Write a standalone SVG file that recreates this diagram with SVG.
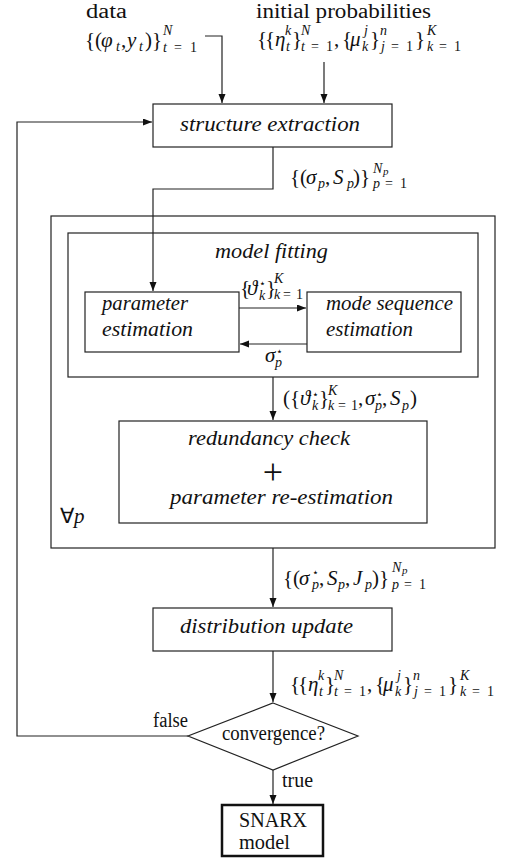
<svg xmlns="http://www.w3.org/2000/svg" width="507" height="859" viewBox="0 0 507 859">
<style>
text{font-family:"Liberation Serif","Times New Roman",serif;fill:#111;font-size:20px}
.f{font-size:21px}
.it{font-style:italic}
.s{font-size:14px}
.st{font-size:11px}
.plus{font-size:36px}
.box{fill:none;stroke:#222;stroke-width:1.2}
.c{fill:none;stroke:#222;stroke-width:1.2}
</style>
<defs>
<marker id="ah" markerUnits="userSpaceOnUse" markerWidth="10" markerHeight="8" refX="9" refY="3.5" orient="auto">
<path d="M0,0 L9,3.5 L0,7 z" fill="#111"/>
</marker>
<g id="probs">
<text class="f"><tspan x="257" y="46">{</tspan><tspan x="265" y="46">{</tspan><tspan class="it" x="275" y="46">η</tspan><tspan class="s it" x="285" y="35">k</tspan><tspan class="s it" x="286" y="51">t</tspan><tspan x="292" y="46">}</tspan><tspan class="s it" x="301" y="35">N</tspan><tspan class="s it" x="301" y="51">t</tspan><tspan class="s" x="311" y="51">=</tspan><tspan class="s" x="326" y="51">1</tspan><tspan x="334" y="46">,</tspan><tspan x="342" y="46">{</tspan><tspan class="it" x="350" y="46">μ</tspan><tspan class="s it" x="364" y="35">j</tspan><tspan class="s it" x="362" y="51">k</tspan><tspan x="370" y="46">}</tspan><tspan class="s it" x="380" y="35">n</tspan><tspan class="s it" x="381" y="51">j</tspan><tspan class="s" x="391" y="51">=</tspan><tspan class="s" x="406" y="51">1</tspan><tspan x="415" y="46">}</tspan><tspan class="s it" x="427" y="35">K</tspan><tspan class="s it" x="427" y="51">k</tspan><tspan class="s" x="439" y="51">=</tspan><tspan class="s" x="454" y="51">1</tspan></text>
</g>
</defs>

<g id="connectors">
<polyline class="c" points="205,36 222,36 222,103" marker-end="url(#ah)"/>
<line class="c" x1="324" y1="62" x2="324" y2="103" marker-end="url(#ah)"/>
<polyline class="c" points="273,147 273,189 153,189 153,291" marker-end="url(#ah)"/>
<polyline class="c" points="188,736 17,736 17,122 152,122" marker-end="url(#ah)"/>
<line class="c" x1="239" y1="308" x2="306" y2="308" marker-end="url(#ah)"/>
<line class="c" x1="307" y1="344" x2="240" y2="344" marker-end="url(#ah)"/>
<line class="c" x1="273" y1="377" x2="273" y2="420" marker-end="url(#ah)"/>
<line class="c" x1="273" y1="548" x2="273" y2="607" marker-end="url(#ah)"/>
<line class="c" x1="273" y1="651" x2="273" y2="702" marker-end="url(#ah)"/>
<line class="c" x1="273" y1="770" x2="273" y2="804" marker-end="url(#ah)"/>
</g>

<g id="input-data">
<text x="86" y="18" textLength="41" lengthAdjust="spacingAndGlyphs">data</text>
<text class="f"><tspan x="85" y="47">{(</tspan><tspan class="it" x="101" y="47">φ</tspan><tspan class="s it" x="116" y="51">t</tspan><tspan x="121" y="47">,</tspan><tspan class="it" x="127" y="47">y</tspan><tspan class="s it" x="139" y="51">t</tspan><tspan x="145" y="47">)}</tspan><tspan class="s it" x="163" y="35">N</tspan><tspan class="s it" x="163" y="52">t</tspan><tspan class="s" x="174" y="52">=</tspan><tspan class="s" x="190" y="52">1</tspan></text>
</g>

<g id="input-probs">
<text x="256" y="18" textLength="175" lengthAdjust="spacingAndGlyphs">initial probabilities</text>
<use href="#probs"/>
</g>

<g id="structure-extraction">
<rect class="box" x="153" y="104" width="239" height="43"/>
<text class="it" x="180" y="131" textLength="180" lengthAdjust="spacingAndGlyphs">structure extraction</text>
</g>

<g id="label-sigma-S">
<text class="f"><tspan x="290" y="184">{(</tspan><tspan class="it" x="306" y="184">σ</tspan><tspan class="s it" x="318" y="188">p</tspan><tspan x="325" y="184">,</tspan><tspan class="it" x="333" y="184">S</tspan><tspan class="s it" x="347" y="188">p</tspan><tspan x="353" y="184">)}</tspan><tspan class="s it" x="373" y="173">N</tspan><tspan class="st it" x="383" y="175">p</tspan><tspan class="s it" x="373" y="188">p</tspan><tspan class="s" x="385" y="188">=</tspan><tspan class="s" x="400" y="188">1</tspan></text>
</g>

<g id="loop-all-p">
<rect class="box" x="51" y="216" width="444" height="332"/>
<text class="f" x="60" y="523"><tspan>∀</tspan><tspan class="it">p</tspan></text>
</g>

<g id="model-fitting">
<rect class="box" x="68" y="233" width="410" height="144"/>
<text class="it" x="215" y="258" textLength="113" lengthAdjust="spacingAndGlyphs">model fitting</text>
</g>

<g id="parameter-estimation">
<rect class="box" x="85" y="292" width="154" height="60"/>
<text class="it" x="102" y="310" textLength="86" lengthAdjust="spacingAndGlyphs">parameter</text>
<text class="it" x="102" y="336" textLength="91" lengthAdjust="spacingAndGlyphs">estimation</text>
</g>

<g id="mode-sequence-estimation">
<rect class="box" x="307" y="292" width="154" height="60"/>
<text class="it" x="326" y="310" textLength="127" lengthAdjust="spacingAndGlyphs">mode sequence</text>
<text class="it" x="326" y="336" textLength="87" lengthAdjust="spacingAndGlyphs">estimation</text>
</g>

<g id="label-theta">
<text class="f"><tspan x="240" y="295">{</tspan><tspan class="it" x="247" y="295">ϑ</tspan><tspan class="st" x="259" y="287">⋆</tspan><tspan class="s it" x="259" y="300">k</tspan><tspan x="266" y="295">}</tspan><tspan class="s it" x="274" y="283">K</tspan><tspan class="s it" x="274" y="299">k</tspan><tspan class="s" x="283" y="299">=</tspan><tspan class="s" x="296" y="299">1</tspan></text>
</g>

<g id="label-sigma-star">
<text class="f"><tspan class="it" x="265" y="362">σ</tspan><tspan class="st" x="276" y="355">⋆</tspan><tspan class="s it" x="275" y="367">p</tspan></text>
</g>

<g id="label-fit-output">
<text class="f"><tspan x="283" y="405">(</tspan><tspan x="290" y="405">{</tspan><tspan class="it" x="300" y="405">ϑ</tspan><tspan class="st" x="312" y="398">⋆</tspan><tspan class="s it" x="312" y="410">k</tspan><tspan x="319" y="405">}</tspan><tspan class="s it" x="328" y="395">K</tspan><tspan class="s it" x="328" y="410">k</tspan><tspan class="s" x="338" y="410">=</tspan><tspan class="s" x="351" y="410">1</tspan><tspan x="358" y="405">,</tspan><tspan class="it" x="365" y="405">σ</tspan><tspan class="st" x="376" y="398">⋆</tspan><tspan class="s it" x="375" y="410">p</tspan><tspan x="382" y="405">,</tspan><tspan class="it" x="390" y="405">S</tspan><tspan class="s it" x="402" y="410">p</tspan><tspan x="410" y="405">)</tspan></text>
</g>

<g id="redundancy-check">
<rect class="box" x="119" y="421" width="308" height="102"/>
<text class="it" x="188" y="445" textLength="162" lengthAdjust="spacingAndGlyphs">redundancy check</text>
<text class="plus" x="273" y="484" text-anchor="middle">+</text>
<text class="it" x="170" y="504" textLength="223" lengthAdjust="spacingAndGlyphs">parameter re-estimation</text>
</g>

<g id="label-sigma-S-J">
<text class="f"><tspan x="283" y="585">{(</tspan><tspan class="it" x="299" y="585">σ</tspan><tspan class="st" x="312" y="576">⋆</tspan><tspan class="s it" x="312" y="589">p</tspan><tspan x="319" y="585">,</tspan><tspan class="it" x="327" y="585">S</tspan><tspan class="s it" x="338" y="589">p</tspan><tspan x="345" y="585">,</tspan><tspan class="it" x="353" y="585">J</tspan><tspan class="s it" x="365" y="589">p</tspan><tspan x="372" y="585">)}</tspan><tspan class="s it" x="392" y="572">N</tspan><tspan class="st it" x="402" y="574">p</tspan><tspan class="s it" x="392" y="589">p</tspan><tspan class="s" x="404" y="589">=</tspan><tspan class="s" x="419" y="589">1</tspan></text>
</g>

<g id="distribution-update">
<rect class="box" x="153" y="608" width="239" height="43"/>
<text class="it" x="180" y="633" textLength="173" lengthAdjust="spacingAndGlyphs">distribution update</text>
</g>

<g id="label-probs">
<use href="#probs" transform="translate(33,645)"/>
</g>

<g id="convergence">
<polygon class="box" points="273,703 358,736 273,770 188,736"/>
<text x="222" y="740" textLength="103" lengthAdjust="spacingAndGlyphs">convergence?</text>
<text x="153" y="727" textLength="35" lengthAdjust="spacingAndGlyphs">false</text>
<text x="282" y="787" textLength="31" lengthAdjust="spacingAndGlyphs">true</text>
</g>

<g id="snarx-model">
<rect x="222" y="805" width="101" height="51" fill="none" stroke="#111" stroke-width="2.5"/>
<text x="239" y="827" textLength="68" lengthAdjust="spacingAndGlyphs">SNARX</text>
<text x="239" y="849" textLength="51" lengthAdjust="spacingAndGlyphs">model</text>
</g>
</svg>
